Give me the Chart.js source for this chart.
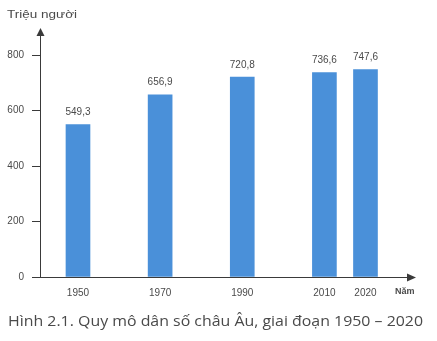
<!DOCTYPE html>
<html><head><meta charset="utf-8">
<script src="https://cdn.jsdelivr.net/npm/chart.js@4"></script>
<style>html,body{margin:0;padding:0;background:#fff}#wrap{width:437px;height:341px;position:relative}</style>
</head><body><div id="wrap"><canvas id="c" width="437" height="341"></canvas></div>
<script>
const years = [1950, 1970, 1990, 2010, 2020];
const population = [549.3, 656.9, 720.8, 736.6, 747.6];
const yTicks = [0, 200, 400, 600, 800];
const yTitle = 'Triệu người';
const xTitle = 'Năm';
const caption = 'Hình 2.1. Quy mô dân số châu Âu, giai đoạn 1950 – 2020';

const fmt = v => v.toFixed(1).replace('.', ',');
const AXIS = '#3a3a3a';
const TXT = '#4a4a4a';
const FONT = 'Liberation Sans, Arial, sans-serif';

const decor = {
  id: 'decor',
  afterDraw(chart) {
    const ctx = chart.ctx, a = chart.chartArea;
    const ys = chart.scales.y;
    ctx.save();
    // value labels
    ctx.fillStyle = TXT;
    ctx.font = '10px ' + FONT;
    ctx.textAlign = 'center';
    ctx.textBaseline = 'middle';
    chart.getDatasetMeta(0).data.forEach((bar, i) => {
      ctx.fillText(fmt(population[i]), bar.x, bar.y - 12);
    });
    // axes
    ctx.strokeStyle = AXIS; ctx.fillStyle = AXIS; ctx.lineWidth = 1;
    const x0 = Math.round(a.left) + 0.5, y0 = Math.round(ys.getPixelForValue(0)) + 0.5;
    ctx.beginPath();
    ctx.moveTo(x0, y0); ctx.lineTo(x0, a.top - 22);
    ctx.moveTo(x0 - 8, y0); ctx.lineTo(a.right + 1, y0);
    ctx.stroke();
    // y arrow
    ctx.beginPath();
    ctx.moveTo(x0, a.top - 27); ctx.lineTo(x0 - 4, a.top - 19); ctx.lineTo(x0 + 4, a.top - 19); ctx.closePath(); ctx.fill();
    // x arrow
    ctx.beginPath();
    ctx.moveTo(a.right + 6, y0); ctx.lineTo(a.right - 3, y0 - 4); ctx.lineTo(a.right - 3, y0 + 4); ctx.closePath(); ctx.fill();
    // titles
    ctx.fillStyle = TXT;
    ctx.textAlign = 'left'; ctx.textBaseline = 'middle';
    ctx.font = '11px ' + FONT;
    ctx.save();
    ctx.translate(7, 15);
    ctx.scale(70 / ctx.measureText(yTitle).width, 1);
    ctx.fillText(yTitle, 0, 0);
    ctx.restore();
    ctx.font = 'bold 9px ' + FONT;
    ctx.fillText(xTitle, 395, 292);
    ctx.font = '15px "Open Sans", sans-serif';
    const w = ctx.measureText(caption).width;
    ctx.save();
    ctx.translate(8, 322);
    ctx.scale(415 / w, 1);
    ctx.fillText(caption, 0, 0);
    ctx.restore();
    ctx.restore();
  }
};

new Chart(document.getElementById('c'), {
  type: 'bar',
  data: {
    datasets: [{
      data: years.map((yr, i) => ({ x: yr, y: population[i] })),
      backgroundColor: '#4a90d9',
      barThickness: 24,
      borderWidth: 0
    }]
  },
  options: {
    responsive: false,
    animation: false,
    events: [],
    layout: { padding: { top: 55, right: 27, bottom: 0, left: 0 } },
    plugins: { legend: { display: false }, tooltip: { enabled: false } },
    scales: {
      x: {
        type: 'linear',
        offset: false,
        min: 1940.75, max: 2030.84,
        afterBuildTicks: s => { s.ticks = years.map(v => ({ value: v })); },
        afterFit: s => { s.height = 64; },
        grid: { display: false, drawTicks: false },
        border: { display: false },
        ticks: { autoSkip: false, maxRotation: 0, padding: 10, color: TXT, font: { size: 10, family: FONT }, callback: v => String(v) }
      },
      y: {
        min: 0, max: 800,
        afterBuildTicks: s => { s.ticks = yTicks.map(v => ({ value: v })); },
        afterFit: s => { s.width = 40; },
        grid: { drawOnChartArea: false, drawTicks: true, tickLength: 8, color: AXIS },
        border: { display: false },
        ticks: { padding: 8, color: TXT, font: { size: 10, family: FONT } }
      }
    }
  },
  plugins: [decor]
});
</script></body></html>
